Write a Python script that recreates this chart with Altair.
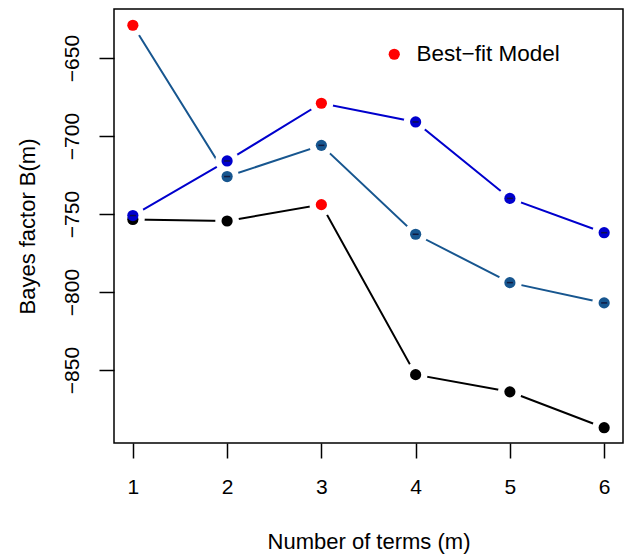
import altair as alt
import pandas as pd

terms = [1, 2, 3, 4, 5, 6]
series_names = ["blue", "steel", "black"]
series_colors = ["#0000CD", "#17568F", "#000000"]
values_blue = [-751, -716, -679, -691, -740, -762]
values_steel = [-629, -726, -706, -763, -794, -807]
values_black = [-753.5, -754.5, -744, -853, -864, -887]
best_fit = {"blue": 3, "steel": 1, "black": 3}

rows = []
for name, col, vals in zip(series_names, series_colors,
                           [values_blue, values_steel, values_black]):
    for m, v in zip(terms, vals):
        rows.append({"series": name, "col": col, "m": m, "B": v,
                     "best": "Best\u2212fit Model" if best_fit[name] == m else None})
df = pd.DataFrame(rows)
order = {"black": 0, "steel": 1, "blue": 2}
df["ord"] = df["series"].map(order)

FONT = "Liberation Sans"

x = alt.X("m:Q", scale=alt.Scale(domain=[0.8, 6.2], nice=False, zero=False),
          axis=alt.Axis(values=terms, title="Number of terms (m)", grid=False,
                        domain=False, tickSize=15, tickColor="black", tickWidth=1.5,
                        labelFontSize=21, labelFont=FONT, labelColor="black",
                        labelPadding=18, titleFont=FONT, titleFontSize=22,
                        titleFontWeight="normal", titleColor="black", titlePadding=34,
                        labelFlush=False))
y = alt.Y("B:Q", scale=alt.Scale(domain=[-896.8, -618.6], nice=False, zero=False),
          axis=alt.Axis(values=[-850, -800, -750, -700, -650], title="Bayes factor B(m)",
                        grid=False, domain=False, tickSize=15, tickColor="black",
                        tickWidth=1.5, labelFontSize=21, labelFont=FONT,
                        labelColor="black", labelAngle=-90, labelAlign="center",
                        labelBaseline="bottom", labelPadding=17, titleFont=FONT,
                        titleFontSize=22, titleFontWeight="normal", titleColor="black",
                        titlePadding=22, labelFlush=False))

base = alt.Chart(df)

lines = base.mark_line(strokeWidth=2).encode(
    x=x, y=y, detail="series:N", color=alt.Color("col:N", scale=None),
    order="m:Q")

halos = base.mark_circle(size=560, opacity=1, color="white").encode(x=x, y=y)

pts = base.transform_filter("datum.best == null").mark_circle(size=125, opacity=1).encode(
    x=x, y=y, color=alt.Color("col:N", scale=None), order="ord:Q")

bars = base.transform_filter("datum.best == null && datum.series != 'black'").mark_tick(
    orient="horizontal", size=6, thickness=1.5, color="#111133", opacity=0.85
).encode(x=x, y=y)

best = base.transform_filter("datum.best != null").mark_circle(size=125, opacity=1).encode(
    x=x, y=y,
    color=alt.Color("best:N",
                    scale=alt.Scale(domain=["Best\u2212fit Model"], range=["#FF0000"]),
                    legend=alt.Legend(title=None, orient="none", legendX=269, legendY=34,
                                      symbolType="circle", symbolSize=125,
                                      symbolStrokeWidth=0, labelFontSize=22.5,
                                      labelFont=FONT, labelColor="black",
                                      labelOffset=11, padding=0)))

chart = alt.layer(lines, halos, pts, bars, best).properties(
    width=509, height=434,
    background="white",
    autosize=alt.AutoSizeParams(type="none"),
    padding={"left": 114, "top": 9, "right": 8, "bottom": 111},
).configure_view(stroke="black", strokeWidth=1.5)

chart.save("out.html", embed_options={"renderer": "svg", "actions": False})
